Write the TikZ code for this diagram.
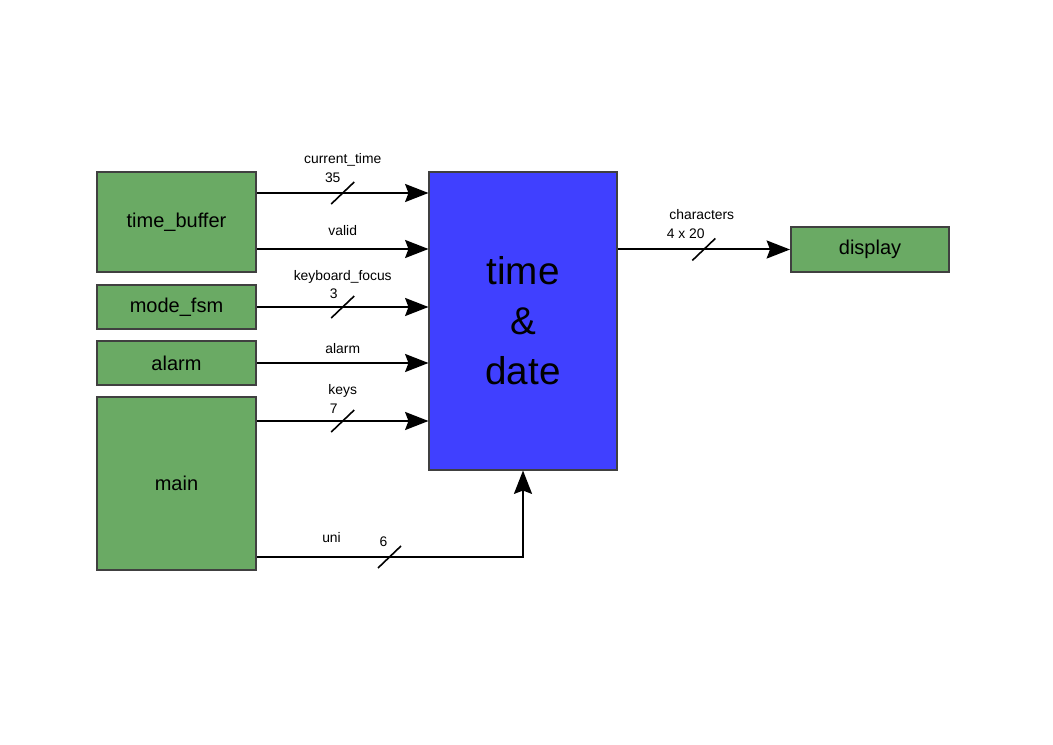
\documentclass[tikz,border=0pt]{standalone}
\usepackage{fontspec}
\setmainfont{Liberation Sans}
\usetikzlibrary{positioning,calc,arrows.meta}
\definecolor{blockgreen}{RGB}{106,170,100}
\definecolor{coreblue}{RGB}{64,64,255}
\definecolor{edgegray}{RGB}{64,64,64}

\begin{document}
\begin{tikzpicture}[x=0.75pt,y=-0.75pt,
        block/.style={draw=edgegray, line width=1.5pt, fill=blockgreen, minimum width=119.25pt, inner sep=0pt, font=\fontsize{15}{18}\selectfont},
        core/.style={draw=edgegray, line width=0.8pt, fill=coreblue, minimum width=141pt, minimum height=223.5pt, align=center, font=\fontsize{29}{37.5}\selectfont},
        sig/.style={line width=1.5pt, -{Stealth[length=17.5pt,width=13.5pt,inset=2.5pt]}},
        busmark/.style={line width=1.2pt},
        siglabel/.style={inner sep=0pt, font=\fontsize{10.4}{12}\selectfont}]
    \useasboundingbox (0,0) rectangle (1053,745);

    % blocks on the left
    \node[block, minimum height=75pt] (time_buffer) at (176.5,222) {time\_buffer};
    \node[block, minimum height=33pt] (mode_fsm) at (176.5,307) {mode\_fsm};
    \node[block, minimum height=33pt] (alarm) at (176.5,363) {alarm};
    \node[block, minimum height=129.75pt] (main) at (176.5,483.5) {main};

    % time and date block
    \node[core] (time_date) at (523,321) {time\\ \&\\ date};

    % output block
    \node[block, minimum width=118.5pt, minimum height=33.75pt] (display) at (870,249.5) {display};

    % rows of the signals
    \coordinate (row current) at (0,193);
    \coordinate (row valid) at (0,249);
    \coordinate (row keys) at (0,421);
    \coordinate (row uni) at (0,557);

    % signals into time and date
    \draw[sig] (time_buffer.east |- row current) -- (time_date.west |- row current) coordinate[pos=0.5] (current bus);
    \draw[sig] (time_buffer.east |- row valid) -- (time_date.west |- row valid) coordinate[pos=0.5] (valid bus);
    \draw[sig] (mode_fsm.east) -- (time_date.west |- mode_fsm.east) coordinate[pos=0.5] (focus bus);
    \draw[sig] (alarm.east) -- (time_date.west |- alarm.east) coordinate[pos=0.5] (alarm bus);
    \draw[sig] (main.east |- row keys) -- (time_date.west |- row keys) coordinate[pos=0.5] (keys bus);
    \draw[sig] (main.east |- row uni) -- (time_date.south |- row uni) -- (time_date.south);
    \coordinate (uni bus) at ($(main.east |- row uni)+(132.5,0)$);

    % signal to the display
    \draw[sig] (time_date.east |- display.west) -- (display.west) coordinate[pos=0.5] (chars bus);

    % bus width marks
    \draw[busmark] ($(current bus)+(-11.5,11)$) -- ($(current bus)+(11.5,-11)$);
    \draw[busmark] ($(focus bus)+(-11.5,11)$) -- ($(focus bus)+(11.5,-11)$);
    \draw[busmark] ($(keys bus)+(-11.5,11)$) -- ($(keys bus)+(11.5,-11)$);
    \draw[busmark] ($(uni bus)+(-11.5,11)$) -- ($(uni bus)+(11.5,-11)$);
    \draw[busmark] ($(chars bus)+(-11.5,11)$) -- ($(chars bus)+(11.5,-11)$);

    % signal names and widths
    \node[siglabel] (current label) at ($(current bus)+(0,-33)$) {current\_time};
    \node[siglabel] (current width) at ($(current bus)+(-10,-15)$) {35};
    \node[siglabel] (valid label) at ($(valid bus)+(0,-18)$) {valid};
    \node[siglabel] (focus label) at ($(focus bus)+(0,-30)$) {keyboard\_focus};
    \node[siglabel] (focus width) at ($(focus bus)+(-9,-13)$) {3};
    \node[siglabel] (alarm label) at ($(alarm bus)+(0,-14)$) {alarm};
    \node[siglabel] (keys label) at ($(keys bus)+(0,-30)$) {keys};
    \node[siglabel] (keys width) at ($(keys bus)+(-9,-12)$) {7};
    \node[siglabel] (uni label) at ($(uni bus)+(-58,-19)$) {uni};
    \node[siglabel] (uni width) at ($(uni bus)+(-6,-15)$) {6};
    \node[siglabel] (chars label) at ($(chars bus)+(-2,-35)$) {characters};
    \node[siglabel] (chars width) at ($(chars bus)+(-18,-16)$) {4 x 20};
\end{tikzpicture}
\end{document}
